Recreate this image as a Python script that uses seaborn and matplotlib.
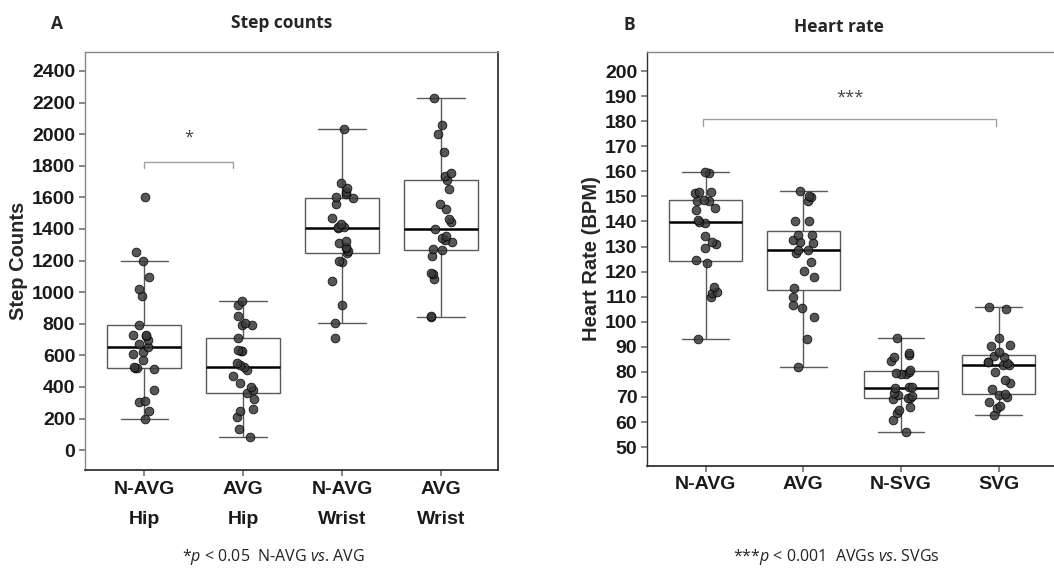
import matplotlib
matplotlib.use("Agg")
import matplotlib.pyplot as plt
import numpy as np
import pandas as pd
import seaborn as sns

# step counts (panel A)
step_groups = ["N-AVG\nHip", "AVG\nHip", "N-AVG\nWrist", "AVG\nWrist"]
step_navg_hip = [200, 250, 306, 312, 380, 515, 521, 522, 525, 570, 606, 622, 654,
                 671, 700, 722, 726, 730, 793, 974, 1017, 1093, 1199, 1251, 1603]
step_avg_hip = [84, 137, 211, 247, 260, 321, 360, 380, 400, 426, 468, 506, 525,
                540, 550, 625, 630, 633, 707, 795, 795, 802, 848, 918, 943]
step_navg_wrist = [713, 806, 918, 1071, 1190, 1195, 1249, 1260, 1280, 1285, 1308,
                   1325, 1405, 1410, 1415, 1430, 1470, 1557, 1599, 1603, 1624,
                   1635, 1656, 1688, 2032]
step_avg_wrist = [844, 846, 1082, 1115, 1120, 1228, 1266, 1270, 1318, 1330, 1343,
                  1356, 1399, 1445, 1466, 1525, 1561, 1652, 1709, 1736, 1751,
                  1888, 2004, 2057, 2226]

# heart rate (panel B)
hr_groups = ["N-AVG", "AVG", "N-SVG", "SVG"]
hr_navg = [93.1, 110.0, 111.4, 112.0, 113.7, 123.6, 124.6, 129.3, 131.0, 131.9,
           134.2, 139.3, 139.9, 140.6, 144.6, 145.3, 148.3, 148.3, 148.6, 151.5,
           151.9, 151.9, 159.4, 159.6]
hr_avg = [82.1, 93.1, 101.8, 105.4, 106.7, 109.8, 113.4, 117.7, 120.4, 124.0,
          127.3, 128.6, 128.6, 131.3, 131.9, 132.6, 134.6, 134.8, 140.3, 140.3,
          148.3, 149.9, 150.2, 152.3]
hr_nsvg = [56.2, 60.8, 63.8, 64.8, 65.9, 69.2, 69.5, 69.6, 70.4, 70.8, 71.7, 73.6,
           73.9, 74.1, 79.0, 79.2, 79.4, 80.1, 80.9, 84.5, 86.1, 86.8, 87.4, 93.4]
hr_svg = [62.8, 65.5, 66.4, 68.1, 70.1, 70.8, 71.2, 73.2, 75.7, 76.8, 80.1, 82.6,
          82.8, 83.7, 84.0, 84.1, 86.0, 86.3, 88.1, 90.4, 90.7, 93.7, 105.0, 106.0]

steps = pd.DataFrame({
    "group": np.repeat(step_groups, [len(step_navg_hip), len(step_avg_hip),
                                     len(step_navg_wrist), len(step_avg_wrist)]),
    "value": step_navg_hip + step_avg_hip + step_navg_wrist + step_avg_wrist,
})
hr = pd.DataFrame({
    "group": np.repeat(hr_groups, [len(hr_navg), len(hr_avg), len(hr_nsvg), len(hr_svg)]),
    "value": hr_navg + hr_avg + hr_nsvg + hr_svg,
})

sns.set_theme(style="white")
plt.rcParams["font.family"] = ["Liberation Sans", "DejaVu Sans"]
plt.rcParams["mathtext.fontset"] = "custom"
plt.rcParams["mathtext.rm"] = "Open Sans"
plt.rcParams["mathtext.it"] = "Open Sans:italic"

np.random.seed(3)

fig = plt.figure(figsize=(10.54, 5.71), dpi=100)
ax1 = fig.add_axes([0.0806, 0.177, 0.392, 0.732])
ax2 = fig.add_axes([0.6139, 0.184, 0.392, 0.725])


def draw_panel(ax, df, order):
    sns.boxplot(data=df, x="group", y="value", order=order, ax=ax, color="white",
                linecolor="#5a5a5a", linewidth=1.0, width=0.75, showfliers=False,
                capwidths=0.48, medianprops=dict(color="black", linewidth=1.8))
    sns.stripplot(data=df, x="group", y="value", order=order, ax=ax, color="#3a3a3a",
                  edgecolor="black", linewidth=0.6, size=6.3, alpha=0.85, jitter=0.12)
    ax.set_xlabel("")
    ax.tick_params(axis="both", which="both", length=4, color="#777777",
                   labelsize=14, bottom=True, left=True, pad=3)
    for lab in ax.get_xticklabels() + ax.get_yticklabels():
        lab.set_fontweight("bold")
        lab.set_color("#1a1a1a")
    for s in ["top", "left"]:
        ax.spines[s].set_color("#888888")
        ax.spines[s].set_linewidth(1.0)
    for s in ["right", "bottom"]:
        ax.spines[s].set_color("#333333")
        ax.spines[s].set_linewidth(1.3)


# panel A
draw_panel(ax1, steps, step_groups)
ax1.set_xlim(-0.6, 3.58)
ax1.set_ylim(-125, 2520)
ax1.set_yticks(range(0, 2401, 200))
ax1.set_xticks(range(4))
ax1.set_xticklabels(step_groups, fontweight="bold", linespacing=2.0)
ax1.tick_params(axis="x", pad=4)
ax1.set_ylabel("Step Counts", fontsize=14.5, fontweight="bold", labelpad=3)
ax1.plot([0, 0, 0.9, 0.9], [1785, 1823, 1823, 1785], color="#a0a0a0", lw=1.0)
ax1.text(0.45, 1975, "*", ha="center", va="center", fontsize=12, color="#444444",
         family="Open Sans")

# panel B
draw_panel(ax2, hr, hr_groups)
ax2.set_xlim(-0.6, 3.63)
ax2.set_ylim(42.5, 207.6)
ax2.set_yticks(range(50, 201, 10))
ax2.set_ylabel("Heart Rate (BPM)", fontsize=14.5, fontweight="bold", labelpad=3)
ax2.tick_params(axis="x", pad=3)
ax2.plot([-0.03, -0.03, 2.97, 2.97], [178, 180.7, 180.7, 178], color="#a0a0a0", lw=1.0)
ax2.text(1.48, 189.4, "***", ha="center", va="center", fontsize=12, color="#444444",
         family="Open Sans")
ax2.spines["left"].set_color("#333333")

# titles and panel letters
fig.text(57 / 1054, 1 - 24 / 571, "A", fontsize=12.5, fontweight="bold",
         family="Open Sans", ha="center", va="center")
fig.text(282 / 1054, 1 - 23 / 571, "Step counts", fontsize=12.5, fontweight="bold",
         family="Open Sans", ha="center", va="center")
fig.text(629 / 1054, 1 - 25 / 571, "B", fontsize=12.5, fontweight="bold",
         family="Open Sans", ha="center", va="center")
fig.text(839 / 1054, 1 - 27 / 571, "Heart rate", fontsize=12.5, fontweight="bold",
         family="Open Sans", ha="center", va="center")

# footnotes
fig.text(273 / 1054, 1 - 557 / 571, r"*$\mathit{p}$ < 0.05  N-AVG $\mathit{vs}$. AVG",
         fontsize=11.5, family="Open Sans", ha="center", va="center", color="#222222")
fig.text(836 / 1054, 1 - 557 / 571, r"***$\mathit{p}$ < 0.001  AVGs $\mathit{vs}$. SVGs",
         fontsize=11.5, family="Open Sans", ha="center", va="center", color="#222222")

fig.savefig("out.png", dpi=100)
